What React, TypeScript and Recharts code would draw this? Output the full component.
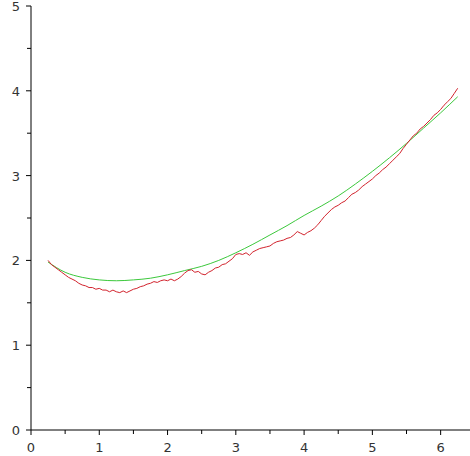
import React from 'react';
import { LineChart, Line, XAxis, YAxis } from 'recharts';

// smooth reference curve (green)
const greenX = [0.25, 0.5, 0.75, 1.0, 1.25, 1.5, 1.75, 2.0, 2.25, 2.5, 2.75, 3.0, 3.25, 3.5, 3.75, 4.0, 4.25, 4.5, 4.75, 5.0, 5.25, 5.5, 5.75, 6.0, 6.25];
const greenY = [1.98, 1.86, 1.8, 1.77, 1.76, 1.77, 1.79, 1.83, 1.88, 1.93, 2.0, 2.09, 2.19, 2.3, 2.41, 2.53, 2.64, 2.76, 2.9, 3.05, 3.21, 3.38, 3.56, 3.74, 3.93];

// noisy simulated curve (red)
const redX = [
  0.25, 0.3, 0.35, 0.4, 0.45, 0.5, 0.55, 0.6, 0.65, 0.7, 0.75, 0.8, 0.85, 0.9, 0.95,
  1.0, 1.05, 1.1, 1.15, 1.2, 1.25, 1.3, 1.35, 1.4, 1.45, 1.5, 1.55, 1.6, 1.65, 1.7, 1.75, 1.8, 1.85, 1.9, 1.95,
  2.0, 2.05, 2.1, 2.15, 2.2, 2.25, 2.3, 2.35, 2.4, 2.45, 2.5, 2.55, 2.6, 2.65, 2.7, 2.75, 2.8, 2.85, 2.9, 2.95,
  3.0, 3.05, 3.1, 3.15, 3.2, 3.25, 3.3, 3.35, 3.4, 3.45, 3.5, 3.55, 3.6, 3.65, 3.7, 3.75, 3.8, 3.85, 3.9, 3.95,
  4.0, 4.05, 4.1, 4.15, 4.2, 4.25, 4.3, 4.35, 4.4, 4.45, 4.5, 4.55, 4.6, 4.65, 4.7, 4.75, 4.8, 4.85, 4.9, 4.95,
  5.0, 5.05, 5.1, 5.15, 5.2, 5.25, 5.3, 5.35, 5.4, 5.45, 5.5, 5.55, 5.6, 5.65, 5.7, 5.75, 5.8, 5.85, 5.9, 5.95,
  6.0, 6.05, 6.1, 6.15, 6.2, 6.25,
];
const redY = [
  2.0, 1.95, 1.92, 1.89, 1.86, 1.83, 1.8, 1.78, 1.76, 1.73, 1.71, 1.7, 1.68, 1.68, 1.66,
  1.67, 1.65, 1.65, 1.63, 1.65, 1.63, 1.62, 1.64, 1.62, 1.64, 1.66, 1.67, 1.69, 1.7, 1.72, 1.73, 1.75, 1.74, 1.76, 1.77,
  1.76, 1.78, 1.76, 1.78, 1.81, 1.85, 1.88, 1.89, 1.86, 1.87, 1.84, 1.83, 1.86, 1.88, 1.91, 1.92, 1.95, 1.96, 1.99, 2.02,
  2.07, 2.08, 2.07, 2.09, 2.06, 2.1, 2.12, 2.14, 2.15, 2.16, 2.17, 2.2, 2.22, 2.23, 2.24, 2.26, 2.27, 2.3, 2.34, 2.32,
  2.3, 2.33, 2.35, 2.38, 2.42, 2.47, 2.52, 2.56, 2.6, 2.63, 2.65, 2.68, 2.7, 2.74, 2.78, 2.8, 2.83, 2.87, 2.9, 2.93,
  2.96, 3.0, 3.03, 3.07, 3.1, 3.14, 3.18, 3.22, 3.26, 3.32, 3.37, 3.42, 3.47, 3.5, 3.55, 3.58, 3.62, 3.66, 3.71, 3.74,
  3.78, 3.83, 3.87, 3.91, 3.97, 4.03,
];

const xTicks = [0, 0.5, 1, 1.5, 2, 2.5, 3, 3.5, 4, 4.5, 5, 5.5, 6];
const yTicks = [0, 0.5, 1, 1.5, 2, 2.5, 3, 3.5, 4, 4.5, 5];

const green = greenX.map((x, i) => ({ x, y: greenY[i] }));
const red = redX.map((x, i) => ({ x, y: redY[i] }));

const FONT = '"DejaVu Sans", sans-serif';

const XTick = (props: any) => {
  const { x, y, payload } = props;
  const major = Number.isInteger(payload.value);
  return (
    <g>
      <line x1={x} x2={x} y1={y} y2={y + (major ? 5 : 4)} stroke="#000" />
      {major && (
        <text x={x} y={y + 22} textAnchor="middle" fontSize={13} fontFamily={FONT} fill="#333">
          {payload.value}
        </text>
      )}
    </g>
  );
};

const YTick = (props: any) => {
  const { x, y, payload } = props;
  const major = Number.isInteger(payload.value);
  return (
    <g>
      <line x1={x - (major ? 5 : 4)} x2={x} y1={y} y2={y} stroke="#000" />
      {major && (
        <text x={x - 11} y={y + 5} textAnchor="end" fontSize={13} fontFamily={FONT} fill="#333">
          {payload.value}
        </text>
      )}
    </g>
  );
};

export default function App() {
  return (
    <div style={{ position: 'absolute', left: 0, top: 0, background: '#fff' }}>
      <LineChart width={470} height={456} margin={{ top: 6, right: 0, bottom: 0, left: 0 }}>
        <XAxis
          type="number"
          dataKey="x"
          domain={[0, 6.43]}
          ticks={xTicks}
          interval={0}
          height={26}
          tickSize={0}
          tickMargin={0}
          tickLine={false}
          stroke="#000"
          tick={<XTick />}
          allowDataOverflow
        />
        <YAxis
          type="number"
          dataKey="y"
          domain={[0, 5]}
          ticks={yTicks}
          interval={0}
          width={31}
          tickSize={0}
          tickMargin={0}
          tickLine={false}
          stroke="#000"
          tick={<YTick />}
        />
        <Line data={green} dataKey="y" type="monotone" stroke="#3cc83c" strokeWidth={1} dot={false} isAnimationActive={false} />
        <Line data={red} dataKey="y" type="linear" stroke="#d2232d" strokeWidth={1} dot={false} isAnimationActive={false} />
      </LineChart>
    </div>
  );
}
